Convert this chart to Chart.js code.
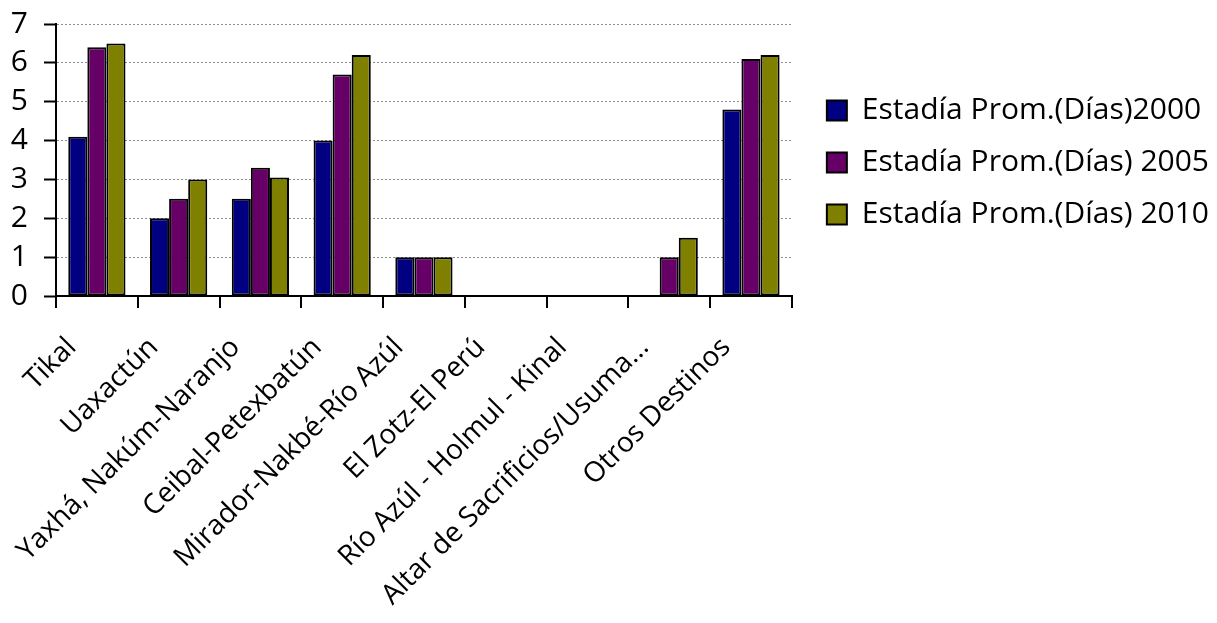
<!DOCTYPE html>
<html>
<head>
<meta charset="utf-8">
<script src="https://cdn.jsdelivr.net/npm/chart.js@4"></script>
<style>
  html, body { margin: 0; padding: 0; background: #fff; }
  #wrap { width: 1217px; height: 623px; }
</style>
</head>
<body>
<div id="wrap"><canvas id="chart" width="1217" height="623"></canvas></div>
<script>
// Datos del gráfico
const categories = [
  'Tikal', 'Uaxactún', 'Yaxhá, Nakúm-Naranjo', 'Ceibal-Petexbatún',
  'Mirador-Nakbé-Río Azúl', 'El Zotz-El Perú', 'Río Azúl - Holmul - Kinal',
  'Altar de Sacrificios/Usuma...', 'Otros Destinos'
];
const seriesNames = ['Estadía Prom.(Días)2000', 'Estadía Prom.(Días) 2005', 'Estadía Prom.(Días) 2010'];
const stay2000 = [4.1, 2.0, 2.5, 4.0, 1.0, 0, 0, 0, 4.8];
const stay2005 = [6.4, 2.5, 3.3, 5.7, 1.0, 0, 0, 1.0, 6.1];
const stay2010 = [6.5, 3.0, 3.05, 6.2, 1.0, 0, 0, 1.5, 6.2];
const yTicks = [0, 1, 2, 3, 4, 5, 6, 7];

const colors = ['#000080', '#660066', '#808000'];
const fontFamily = '"Open Sans", Lato, sans-serif';

// mueve la leyenda un poco a la derecha del área del gráfico
const legendGap = {
  id: 'legendGap',
  afterLayout(chart) {
    if (chart.legend) {
      chart.legend.left += 13;
      chart.legend.right += 13;
    }
  }
};

const ctx = document.getElementById('chart').getContext('2d');
new Chart(ctx, {
  type: 'bar',
  data: {
    labels: categories,
    datasets: [stay2000, stay2005, stay2010].map((d, i) => ({
      label: seriesNames[i],
      data: d,
      backgroundColor: colors[i],
      borderColor: '#000',
      borderWidth: 2,
      borderSkipped: false,
      categoryPercentage: 0.7,
      barPercentage: 1.0
    }))
  },
  options: {
    responsive: false,
    animation: false,
    layout: { padding: { top: 24, left: 0, right: 11, bottom: 0 } },
    scales: {
      x: {
        afterFit: scale => {
          scale.height = 327;
          scale.paddingLeft = 0;
          scale.paddingRight = 0;
        },
        grid: {
          offset: true,
          drawOnChartArea: false,
          drawTicks: true,
          tickLength: 12,
          color: '#000',
          lineWidth: 2
        },
        border: { color: '#000', width: 2 },
        ticks: {
          color: '#000',
          font: { family: fontFamily, size: 28 },
          minRotation: 45,
          maxRotation: 45,
          autoSkip: false,
          labelOffset: -25,
          padding: 23
        }
      },
      y: {
        min: 0,
        max: 7,
        afterFit: scale => {
          scale.width = 56;
          scale.paddingTop = 0;
          scale.paddingBottom = 0;
        },
        afterBuildTicks: axis => { axis.ticks = yTicks.map(v => ({ value: v })); },
        grid: {
          color: '#8c8c8c',
          lineWidth: 1,
          tickColor: '#000',
          tickLength: 12,
          tickWidth: 2
        },
        border: { color: '#000', width: 2, dash: [2, 2] },
        ticks: {
          color: '#000',
          font: { family: fontFamily, size: 30 },
          autoSkip: false,
          padding: 16
        }
      }
    },
    plugins: {
      legend: {
        position: 'right',
        align: 'start',
        maxWidth: 500,
        title: { display: true, text: '', padding: { top: 35, bottom: 0 } },
        labels: {
          color: '#000',
          font: { family: fontFamily, size: 30 },
          boxWidth: 20,
          boxHeight: 20,
          padding: 22
        }
      },
      tooltip: { enabled: false }
    }
  },
  plugins: [legendGap]
});
</script>
</body>
</html>
